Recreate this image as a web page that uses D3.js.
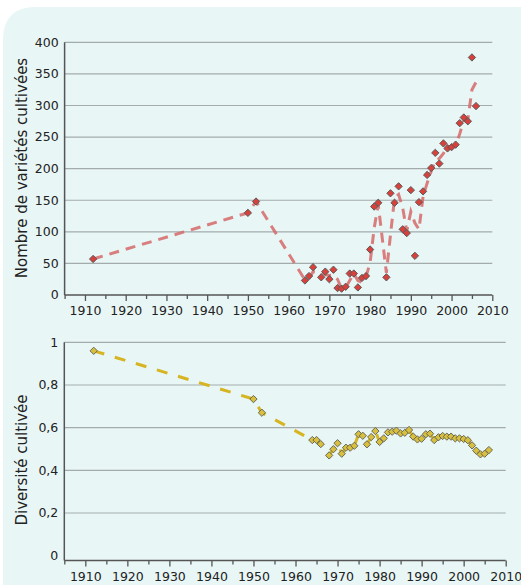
<!DOCTYPE html>
<html>
<head>
<meta charset="utf-8">
<script src="https://cdn.jsdelivr.net/npm/d3@7"></script>
<style>
html,body{margin:0;padding:0;background:#ffffff;}
svg{display:block;}
text{font-family:"DejaVu Sans",Verdana,sans-serif;fill:#222;}
</style>
</head>
<body>
<svg id="chart" width="521" height="585"></svg>
<script>
// ---- data ----
const yearsTop = [1912,1950,1952,1964,1965,1966,1968,1969,1970,1971,1972,1973,1974,1975,1976,1977,1978,1979,1980,1981,1982,1984,1985,1986,1987,1988,1989,1990,1991,1992,1993,1994,1995,1996,1997,1998,1999,2000,2001,2002,2003,2004,2005,2006];
const varieties = [57,130,148,23,30,44,28,37,25,40,11,10,13,34,34,12,27,30,72,140,146,28,161,146,172,104,98,166,62,147,164,190,201,225,208,240,232,234,238,272,281,275,376,299];
const trendTop = [57,130,148,24,26,37,36,32,31,32,25,10,12,23,34,23,20,29,51,106,143,35,95,153,159,138,101,132,114,104,156,177,196,213,216,224,236,233,236,255,276,278,325,337];

const yearsBottom = [1912,1950,1952,1964,1965,1966,1968,1969,1970,1971,1972,1973,1974,1975,1976,1977,1978,1979,1980,1981,1982,1983,1984,1985,1986,1987,1988,1989,1990,1991,1992,1993,1994,1995,1996,1997,1998,1999,2000,2001,2002,2003,2004,2005,2006];
const diversity = [0.96,0.734,0.67,0.542,0.542,0.523,0.47,0.499,0.527,0.478,0.506,0.506,0.515,0.569,0.562,0.522,0.556,0.584,0.533,0.55,0.578,0.581,0.586,0.573,0.576,0.589,0.558,0.545,0.548,0.569,0.572,0.542,0.555,0.561,0.558,0.558,0.55,0.55,0.547,0.541,0.517,0.492,0.475,0.478,0.495];

const xTicks = [1910,1920,1930,1940,1950,1960,1970,1980,1990,2000,2010];
const xMinorTicks = [1905,1915,1925,1935,1945,1955,1965,1975,1985,1995,2005];
const yTicksTop = [0,50,100,150,200,250,300,350,400];
const yTicksBottom = [0,0.2,0.4,0.6,0.8,1];
const yLabelTop = "Nombre de variétés cultivées";
const yLabelBottom = "Diversité cultivée";

// ---- drawing ----
const svg = d3.select("#chart");
svg.append("path")
  .attr("d", (() => { const x0=3,y0=7,x1=521,y1=600,r=33;
    return `M${x0},${y1} L${x0},${y0+r} Q${x0},${y0} ${x0+r},${y0} L${x1},${y0} L${x1},${y1} Z`; })())
  .attr("fill", "#e8f6f6");

const fmtFr = d => String(d).replace(".", ",");

function panel(opts) {
  const {xRange, yScale, yTicks, yFmt, xs, ys, lineYs, marker, lineColor, dash, label, labelY} = opts;
  const x = d3.scaleLinear().domain([1905, 2010]).range(xRange);
  const g = svg.append("g");
  const [yBot, yTop] = yScale.range();

  // gridlines
  g.selectAll(".grid").data(yTicks.filter(t => t !== 0 || opts.gridZero)).enter().append("line")
    .attr("x1", xRange[0]).attr("x2", xRange[1])
    .attr("y1", d => yScale(d)).attr("y2", d => yScale(d))
    .attr("stroke", "#a3abab").attr("stroke-width", 1.2);

  // y labels
  g.selectAll(".yl").data(yTicks).enter().append("text")
    .attr("x", xRange[0] - 6).attr("y", d => yScale(d)).attr("dy", "0.35em")
    .attr("text-anchor", "end").attr("font-size", 12.5)
    .text(yFmt);

  // x axis
  const xAxis = d3.axisBottom(x).tickValues(xTicks).tickSize(6).tickFormat(d3.format("d"));
  const ax = g.append("g").attr("transform", `translate(0,${yBot})`).call(xAxis);
  ax.select(".domain").remove();
  ax.selectAll("line").attr("stroke", "#555").attr("stroke-width", 1.3);
  ax.selectAll("text").attr("font-size", 12.5).attr("fill", "#222")
    .attr("font-family", "DejaVu Sans").attr("dy", "0.9em");
  const minor = d3.axisBottom(x).tickValues(xMinorTicks).tickSize(4).tickFormat("");
  const mx = g.append("g").attr("transform", `translate(0,${yBot})`).call(minor);
  mx.select(".domain").remove();
  mx.selectAll("line").attr("stroke", "#555").attr("stroke-width", 1.3);

  // axis lines
  g.append("line").attr("x1", xRange[0]).attr("x2", xRange[1]).attr("y1", yBot).attr("y2", yBot)
    .attr("stroke", "#555").attr("stroke-width", 1.5);
  g.append("line").attr("x1", xRange[0]).attr("x2", xRange[0]).attr("y1", yTop).attr("y2", yBot)
    .attr("stroke", "#555").attr("stroke-width", 1.5);

  // trend line
  const line = d3.line().x((d, i) => x(xs[i])).y(d => yScale(d));
  g.append("path").datum(lineYs).attr("d", line)
    .attr("fill", "none").attr("stroke", lineColor).attr("stroke-width", 3)
    .attr("stroke-dasharray", dash);

  // markers
  const sym = d3.symbol().type(d3.symbolDiamond2).size(34);
  g.selectAll(".pt").data(ys).enter().append("path")
    .attr("d", sym)
    .attr("transform", (d, i) => `translate(${x(xs[i])},${yScale(d)})`)
    .attr("fill", marker.fill).attr("stroke", marker.stroke).attr("stroke-width", 1);

  // y label
  g.append("text").attr("transform", `translate(27,${labelY}) rotate(-90)`)
    .attr("text-anchor", "middle").attr("font-size", 15).text(label);
}

panel({
  xRange: [64.6, 492.3],
  yScale: d3.scaleLinear().domain([0, 400]).range([295, 42.3]),
  yTicks: yTicksTop, yFmt: d => d,
  xs: yearsTop, ys: varieties, lineYs: trendTop,
  marker: {fill: "#d8413b", stroke: "#5a5a5a"},
  lineColor: "rgba(214,104,104,0.85)", dash: "10,7",
  label: yLabelTop, labelY: 168
});

panel({
  xRange: [64.3, 505.7],
  yScale: d3.scaleLinear().domain([-0.0225, 1]).range([560.5, 342.3]),
  yTicks: yTicksBottom, yFmt: fmtFr, gridZero: false,
  xs: yearsBottom, ys: diversity, lineYs: diversity,
  marker: {fill: "#d8bf3e", stroke: "#6a6a5a"},
  lineColor: "#d7b422", dash: "11,11",
  label: yLabelBottom, labelY: 460
});
</script>
</body>
</html>
